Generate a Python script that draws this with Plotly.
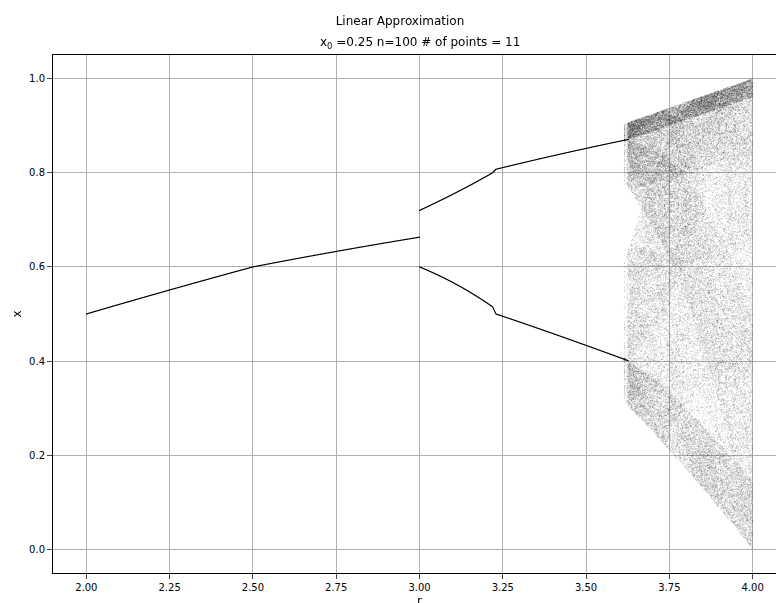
import numpy as np
import plotly.graph_objects as go

# model settings read from the title
x0 = 0.25
n_iter = 100
n_points = 11
r_min, r_max = 2.0, 4.0
n_r = 2500
n_keep = 120

# knots of the piecewise linear approximation of r*x*(1-x)
knots = np.linspace(0, 1, n_points)
g = knots * (1 - knots)
step = knots[1] - knots[0]
r_values = np.linspace(r_min, r_max, n_r)

rs = []
xs = []
x = np.full(n_r, x0)
for i in range(n_iter + n_keep):
    idx = np.clip((x / step).astype(int), 0, n_points - 2)
    frac = (x - knots[idx]) / step
    x = r_values * (g[idx] + frac * (g[idx + 1] - g[idx]))
    if i >= n_iter:
        rs.append(r_values.copy())
        xs.append(x.copy())
rs = np.concatenate(rs)
xs = np.concatenate(xs)

fig = go.Figure()
fig.add_trace(go.Scattergl(x=rs, y=xs, mode="markers",
                           marker=dict(size=1.2, color="black", opacity=0.15),
                           hoverinfo="skip"))

fig.update_layout(
    width=784, height=603,
    paper_bgcolor="white", plot_bgcolor="white",
    margin=dict(l=45, r=6, t=47, b=38),
    showlegend=False,
    font=dict(family="DejaVu Sans", size=10, color="black"),
    title=dict(text="Linear Approximation", x=0.5, xanchor="center", y=0.985,
               yanchor="top", font=dict(size=12)),
    annotations=[
        dict(text="x<sub>0</sub> =0.25 n=100 # of points = 11", x=0.5, y=1.0, xref="paper",
             yref="paper", yanchor="bottom", yshift=2, showarrow=False, font=dict(size=12)),
    ],
)
fig.update_xaxes(range=[1.9, 4.1], tickvals=np.arange(2, 4.01, 0.25), tickformat=".2f",
                 showgrid=True, gridcolor="#b0b0b0", showline=True, linecolor="black",
                 mirror=True, ticks="outside", title=dict(text="r", standoff=4), zeroline=False)
fig.update_yaxes(range=[-0.05, 1.05], tickvals=np.arange(0, 1.01, 0.2), tickformat=".1f",
                 showgrid=True, gridcolor="#b0b0b0", showline=True, linecolor="black",
                 mirror=True, ticks="outside", title=dict(text="x", standoff=4), zeroline=False)

fig.write_html("out.html")
